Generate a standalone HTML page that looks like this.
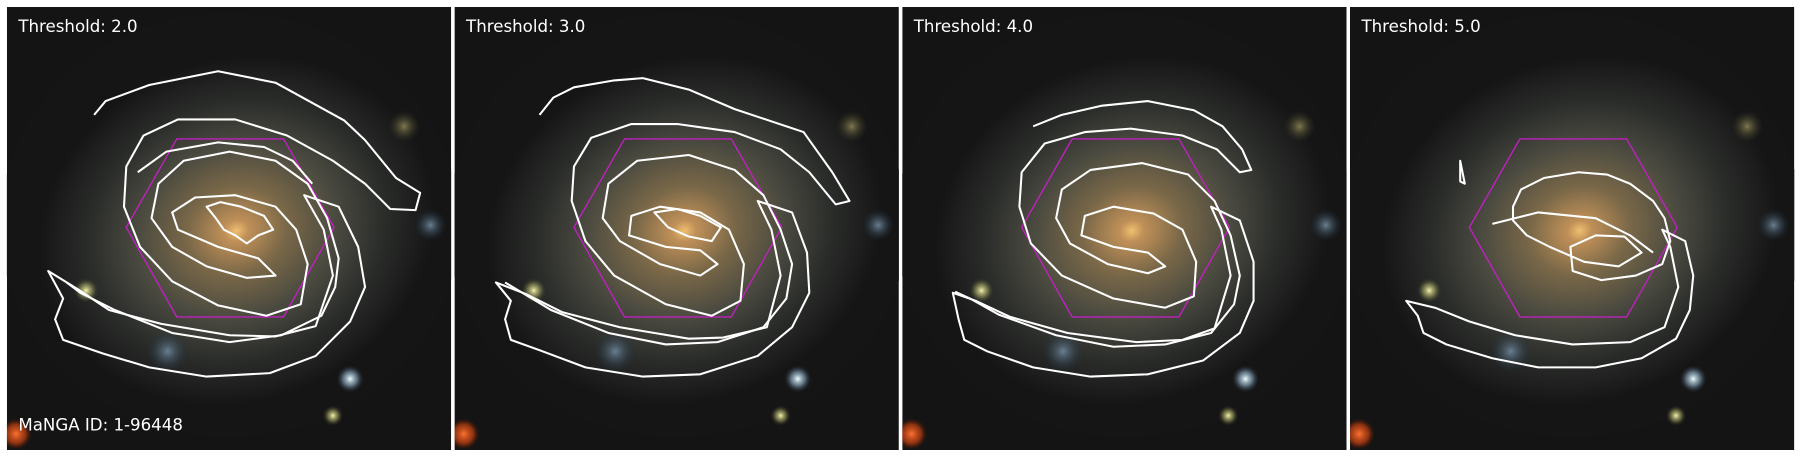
<!DOCTYPE html>
<html><head><meta charset="utf-8"><style>
html,body{margin:0;padding:0;background:#fff;}
svg{display:block;}
text{font-family:"DejaVu Sans","Liberation Sans",sans-serif;}
</style></head><body>
<svg id="fig" width="1800" height="457" viewBox="0 0 1568 398" xmlns="http://www.w3.org/2000/svg">
<defs>
<radialGradient id="gal" cx="200" cy="195" r="175" gradientUnits="userSpaceOnUse" gradientTransform="translate(200 195) rotate(-20) scale(1 0.85) translate(-200 -195)">
<stop offset="0" stop-color="#f0c070"/>
<stop offset="0.06" stop-color="#c09058"/>
<stop offset="0.25" stop-color="#7a6848"/>
<stop offset="0.5" stop-color="#4a4a40"/>
<stop offset="0.75" stop-color="#2a2c2a"/>
<stop offset="1" stop-color="#151515"/>
</radialGradient>
<radialGradient id="sy"><stop offset="0" stop-color="#f4f4b0"/><stop offset="0.5" stop-color="#a0a060" stop-opacity="0.6"/><stop offset="1" stop-color="#303020" stop-opacity="0"/></radialGradient>
<radialGradient id="sb"><stop offset="0" stop-color="#f0ffff"/><stop offset="0.5" stop-color="#90b0c8" stop-opacity="0.6"/><stop offset="1" stop-color="#203040" stop-opacity="0"/></radialGradient>
<radialGradient id="so"><stop offset="0" stop-color="#ff7030"/><stop offset="0.6" stop-color="#c04010" stop-opacity="0.7"/><stop offset="1" stop-color="#401000" stop-opacity="0"/></radialGradient>
<radialGradient id="sf"><stop offset="0" stop-color="#807850"/><stop offset="1" stop-color="#303020" stop-opacity="0"/></radialGradient>
<radialGradient id="sbl"><stop offset="0" stop-color="#6a8090"/><stop offset="1" stop-color="#203040" stop-opacity="0"/></radialGradient>
<clipPath id="pc"><rect x="0" y="0" width="387" height="386"/></clipPath>
</defs>
<g id="panels"></g>
</svg>
<script>
const thresholds = [2.0, 3.0, 4.0, 5.0];
const panelX = [6, 396, 786, 1176];
const NS = "http://www.w3.org/2000/svg";
const contours = [
 ["M82,100 L92,88 L130,74 L190,62 L240,72 L300,105 L318,122 L345,155 L366,168 L362,183 L340,182 L318,160 L290,140 L250,118 L205,104 L155,104 L125,118 L110,145 L108,180 L122,215 L150,245 L190,266 L232,275 L262,265 L268,230 L258,200 L240,180 L205,170 L170,172 L150,185 L155,200 L190,215 L225,225 L240,240 L215,242 L180,232 L150,215 L132,190 L138,160 L160,140 L200,132 L240,140 L268,160 L285,190 L295,225 L292,250 L280,275 L245,292 L200,298 L150,290 L100,270 L70,255 L58,246",
  "M42,236 L68,252 L95,270 L140,282 L200,292 L240,293 L275,284 L290,240 L282,200 L265,170 L295,180 L312,215 L318,250 L305,280 L275,310 L235,325 L180,328 L130,320 L90,308 L55,296 L48,278 L55,260 L42,236 Z",
  "M180,180 L192,176 L210,180 L230,188 L238,200 L225,205 L215,212 L205,205 L195,200 L188,190 Z",
  "M120,150 L145,132 L190,124 L230,128 L255,140 L272,160"],
 ["M470,100 L482,85 L500,76 L535,70 L560,68 L600,78 L640,95 L700,115 L725,150 L740,175 L728,178 L705,150 L680,130 L640,115 L590,108 L550,108 L515,120 L500,145 L498,175 L510,210 L535,240 L580,265 L620,275 L645,262 L648,230 L635,200 L610,185 L575,180 L550,188 L548,205 L580,215 L610,218 L625,230 L610,240 L575,230 L540,210 L525,190 L530,160 L555,140 L600,135 L640,148 L665,170 L680,200 L690,230 L685,260 L665,285 L625,298 L580,300 L530,290 L480,270 L455,255 L440,246",
  "M432,246 L458,256 L490,272 L540,285 L600,295 L630,294 L668,285 L680,240 L672,200 L660,175 L690,185 L703,220 L705,255 L690,285 L660,310 L610,326 L560,328 L510,320 L470,305 L445,296 L440,278 L445,262 L432,246 Z",
  "M570,185 L590,182 L610,188 L628,198 L620,210 L600,206 L582,198 Z"],
 ["M900,110 L925,100 L960,92 L1000,88 L1040,96 L1065,110 L1082,130 L1090,148 L1080,150 L1060,130 L1030,118 L985,112 L945,115 L910,125 L890,150 L888,180 L898,212 L925,240 L970,260 L1015,268 L1040,258 L1042,228 L1030,200 L1005,186 L970,180 L945,188 L942,205 L970,215 L1000,220 L1015,232 L1000,238 L965,230 L932,212 L920,190 L925,165 L950,148 L995,142 L1035,152 L1058,175 L1072,205 L1080,240 L1075,265 L1055,290 L1015,300 L970,302 L920,292 L870,274 L845,260 L832,254",
  "M830,255 L850,262 L880,276 L930,290 L990,298 L1030,296 L1058,286 L1072,240 L1064,200 L1055,180 L1080,192 L1092,228 L1092,262 L1080,290 L1048,314 L1000,326 L950,328 L900,320 L860,306 L840,296 L835,278 L830,255 Z"],
 ["M1272,140 L1276,160 L1272,158 Z",
  "M1318,180 L1325,165 L1345,155 L1375,150 L1400,152 L1420,160 L1440,175 L1450,190 L1455,210 L1448,230 L1425,240 L1395,244 L1370,236 L1368,215 L1390,205 L1415,206 L1430,220 L1410,232 L1380,228 L1350,215 L1330,205 L1318,192 Z",
  "M1225,262 L1250,268 L1280,280 L1320,292 L1370,300 L1420,298 L1450,285 L1462,250 L1455,215 L1448,200 L1468,210 L1475,240 L1472,270 L1460,295 L1430,312 L1390,320 L1340,320 L1300,312 L1260,300 L1240,290 L1235,275 L1225,262 Z",
  "M1300,195 L1340,185 L1390,190 L1420,205 L1440,220"]
];
const g = document.getElementById('panels');
function mk(tag, attrs){const e=document.createElementNS(NS,tag);for(const k in attrs)e.setAttribute(k,attrs[k]);return e;}
thresholds.forEach((t,i)=>{
  const p = mk('g',{transform:`translate(${panelX[i]},6)`});
  
  
  const inner = mk('g',{'clip-path':'url(#pc)'});
  inner.appendChild(mk('rect',{x:0,y:0,width:387,height:386,fill:'#141414'}));
  inner.appendChild(mk('ellipse',{cx:194,cy:190,rx:200,ry:185,fill:'url(#gal)'}));
  const stars=[[69,247,11,'sy'],[299,324,12,'sb'],[284,356,9,'sy'],[8,372,14,'so'],[369,190,14,'sbl'],[346,104,14,'sf'],[140,300,18,'sbl']];
  stars.forEach(s=>inner.appendChild(mk('circle',{cx:s[0],cy:s[1],r:s[2],fill:`url(#${s[3]})`})));
  const hex = mk('polygon',{points:'148,115 241,115 285,192 241,270 148,270 104,192',fill:'none',stroke:'#c020c0','stroke-width':1.2});
  
  
  inner.appendChild(hex);
  const cg = mk('g',{transform:`translate(${-panelX[i]},-6)`});
  contours[i].forEach(d=>{
    const c = mk('path',{d:d,fill:'none',stroke:'#fff','stroke-width':1.8,'stroke-linejoin':'round'});
    
    
    cg.appendChild(c);
  });
  inner.appendChild(cg);
  p.appendChild(inner);
  const tx = mk('text',{x:10,y:22,fill:'#fff','font-size':14.5});
  
  
  tx.textContent='Threshold: '+t.toFixed(1);
  p.appendChild(tx);
  if(i===0){
    const id = mk('text',{x:10,y:369,fill:'#fff','font-size':14.5});
    
    
    id.textContent='MaNGA ID: 1-96448';
    p.appendChild(id);
  }
  g.appendChild(p);
});
</script>
</body></html>
